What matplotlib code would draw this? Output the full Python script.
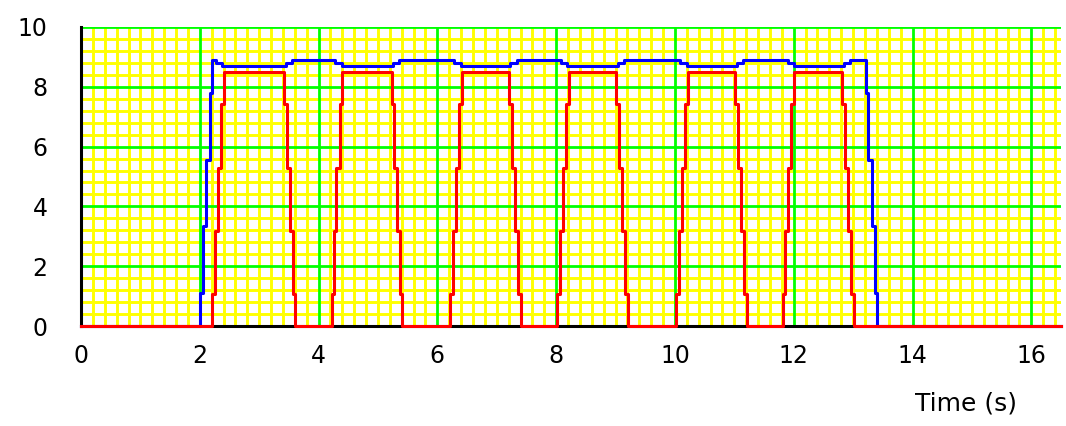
from matplotlib import pyplot as plt
import numpy as np

# Red pulses: edge times (5 steps up, 5 steps down per pulse)
red_levels = [1.06, 3.18, 5.30, 7.42, 8.48]
rise_times = [
    [2.21, 2.25, 2.31, 2.36, 2.40],
    [4.22, 4.26, 4.30, 4.36, 4.40],
    [6.21, 6.26, 6.31, 6.36, 6.41],
    [8.01, 8.06, 8.11, 8.16, 8.21],
    [10.02, 10.07, 10.12, 10.17, 10.22],
    [11.82, 11.86, 11.91, 11.96, 12.01],
]
fall_times = [
    [3.42, 3.47, 3.52, 3.57, 3.61],
    [5.23, 5.27, 5.32, 5.37, 5.40],
    [7.21, 7.26, 7.31, 7.36, 7.40],
    [9.01, 9.06, 9.11, 9.16, 9.21],
    [11.01, 11.06, 11.11, 11.16, 11.21],
    [12.81, 12.86, 12.91, 12.96, 13.01],
]

# Blue envelope: breakpoints (time, level after that time)
blue_t = [0.00, 2.00, 2.06, 2.11, 2.17, 2.21, 2.28, 2.38, 3.45, 3.55,
          4.28, 4.40, 5.25, 5.35, 6.28, 6.39, 7.23, 7.34, 8.09, 8.19,
          9.04, 9.14, 10.09, 10.20, 11.05, 11.14, 11.90, 12.01, 12.84, 12.94,
          13.21, 13.25, 13.31, 13.36, 13.41, 16.5]
blue_y = [0.00, 1.11, 3.34, 5.56, 7.79, 8.90, 8.79, 8.70, 8.79, 8.90,
          8.79, 8.70, 8.79, 8.90, 8.79, 8.70, 8.79, 8.90, 8.79, 8.70,
          8.79, 8.90, 8.79, 8.70, 8.79, 8.90, 8.79, 8.70, 8.79, 8.90,
          7.79, 5.56, 3.34, 1.11, 0.00, 0.00]

t_max = 16.5

#Builds the red step breakpoints
red_t = [0.0]
red_y = [0.0]
for rise, fall in zip(rise_times, fall_times):
    red_t += rise
    red_y += red_levels
    red_t += fall
    red_y += red_levels[::-1][1:] + [0.0]
red_t.append(t_max)
red_y.append(0.0)

fig = plt.figure(figsize=[10.66, 4.26], dpi=100)
ax = fig.add_axes([81 / 1066, 100 / 426, 980 / 1066, 299 / 426])

ax.set_xlim(0, t_max)
ax.set_ylim(0, 10)
ax.set_xticks(np.arange(0, 17, 2))
ax.set_xticks(np.round(np.arange(0, t_max, 0.2), 1), minor=True)
ax.set_yticks(np.arange(0, 11, 2))
ax.set_yticks(np.round(np.arange(0, 10.01, 0.4), 1), minor=True)
ax.set_axisbelow(True)
ax.grid(which='minor', color='#ffff00', lw=2.1)

#Green major grid drawn above the yellow one
for x in np.arange(2, 17, 2):
    ax.axvline(x, color='#00ff00', lw=2.0, zorder=1)
for y in np.arange(2, 11, 2):
    ax.axhline(y, color='#00ff00', lw=2.0, zorder=1)

ax.tick_params(which='both', length=0)
ax.tick_params(axis='y', pad=24, labelsize=17)
ax.tick_params(axis='x', pad=13, labelsize=17)

for side in ['top', 'right']:
    ax.spines[side].set_visible(False)
for side in ['left', 'bottom']:
    ax.spines[side].set_linewidth(2.2)
    ax.spines[side].set_color('k')

ax.step(blue_t, blue_y, where='post', color='#0000ff', lw=2.2, zorder=3, clip_on=False)
ax.step(red_t, red_y, where='post', color='#ff0000', lw=2.2, zorder=4, clip_on=False)

fig.text(915 / 1066, 1 - 404 / 426, 'Time (s)', fontsize=18, ha='left', va='center')

fig.savefig('out.png', dpi=100)
